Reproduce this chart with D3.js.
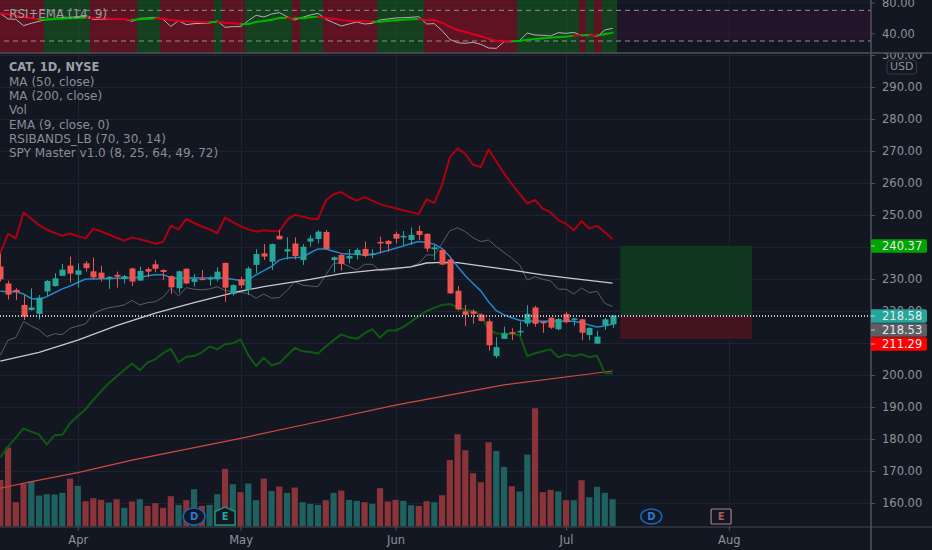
<!DOCTYPE html>
<html><head><meta charset="utf-8">
<style>html,body{margin:0;padding:0;background:#131722;overflow:hidden}svg{display:block}text{font-family:"DejaVu Sans",sans-serif}</style>
<script src="https://cdn.jsdelivr.net/npm/d3@7/dist/d3.min.js"></script>
</head><body><svg id="c" width="932" height="550"></svg>
<script>
const open_=[233.9,228.6,226.6,221.9,220.3,219.1,226.1,227.8,231.0,234.2,231.3,234.9,232.4,232.0,230.5,231.3,230.1,233.3,229.5,233.1,234.6,232.8,230.9,227.1,233.2,229.1,230.1,230.1,229.9,235.0,225.3,229.9,226.6,234.4,238.0,235.4,243.5,238.6,241.1,235.9,241.7,242.5,244.7,235.9,237.5,236.4,237.5,239.4,237.6,241.6,241.9,244.1,243.0,242.2,245.0,244.1,239.3,239.1,236.1,226.3,219.9,219.9,218.9,216.8,205.9,211.3,213.4,213.4,216.1,221.1,216.6,217.9,214.3,219.1,217.4,217.4,212.5,209.8,215.5,215.8];
const close_=[229.9,225.1,225.9,218.2,221.1,224.2,229.4,230.2,232.9,231.7,232.7,233.4,230.5,230.1,230.7,230.7,230.9,229.2,232.5,232.3,233.2,232.2,227.4,232.4,228.6,230.1,229.9,230.3,232.3,227.3,228.1,228.0,233.3,237.8,237.0,240.9,242.4,239.3,237.2,240.1,242.7,244.8,239.4,236.8,234.7,237.2,239.1,237.2,238.0,241.1,240.9,242.6,243.5,243.8,243.8,239.5,239.9,234.5,225.5,220.5,218.8,219.1,216.9,209.3,208.7,213.0,212.9,213.8,219.1,216.0,216.2,214.8,217.5,216.5,217.7,213.2,214.7,212.0,217.4,218.58];
const high_=[238.0,229.5,227.1,225.0,227.1,225.0,229.7,231.8,234.7,237.0,234.9,235.6,236.7,234.1,230.9,232.3,231.3,233.5,233.9,233.6,235.9,233.0,231.1,232.6,233.3,231.5,232.8,230.9,233.6,235.2,228.4,230.7,233.9,239.3,240.9,241.1,245.3,243.0,243.0,240.9,243.7,245.3,245.3,237.0,238.0,239.3,239.6,241.7,239.3,243.2,242.2,244.8,245.0,246.1,246.6,244.3,240.9,239.3,236.5,227.8,221.9,220.5,219.3,217.7,211.8,215.1,214.6,216.7,221.8,221.6,216.7,218.1,217.8,219.7,217.9,217.6,214.9,213.8,217.8,218.8];
const low_=[229.2,223.6,223.4,217.2,220.1,217.4,224.7,227.6,230.9,228.9,227.3,232.3,229.9,229.2,226.9,227.3,228.6,227.8,229.4,230.5,232.1,229.7,225.3,225.7,228.4,227.6,229.7,227.9,229.2,222.9,224.8,227.1,225.0,231.8,235.9,232.8,242.4,236.1,236.1,234.4,240.1,241.1,239.3,232.0,232.6,234.9,236.1,236.8,236.5,238.0,238.5,241.1,240.6,240.6,242.2,238.5,235.9,234.3,225.4,220.1,215.3,216.0,216.7,207.6,205.3,211.3,210.9,212.2,215.1,215.1,213.2,214.4,213.9,216.1,215.4,210.9,210.9,209.7,214.1,214.7];
const volume=[2.80,4.74,1.46,2.56,2.70,1.86,1.94,1.92,2.02,2.88,2.44,1.52,1.70,1.60,1.44,1.64,1.12,1.50,1.64,1.24,1.40,1.12,1.82,1.30,1.58,2.24,1.24,1.30,1.94,3.46,2.54,2.06,2.58,1.58,2.88,2.14,2.40,2.02,2.34,1.46,1.36,1.30,1.58,2.02,2.16,1.60,1.54,1.46,1.36,2.30,1.50,1.60,1.54,1.28,1.24,1.52,1.46,1.88,4.00,5.54,4.58,3.20,2.66,5.06,4.54,3.58,2.42,2.10,4.32,7.10,2.06,2.20,2.10,1.58,1.58,2.78,1.76,2.38,2.02,1.64];
const bandUpper=[238.1,244.1,242.7,250.8,248.8,246.8,245.4,244.4,243.5,244.2,243.4,242.7,245.7,244.9,243.9,242.9,242.0,243.0,242.4,241.8,241.0,241.6,246.6,245.5,248.8,247.5,246.4,245.5,244.3,249.2,247.8,246.5,245.5,244.8,245.2,245.0,244.9,248.4,250.1,249.5,248.9,248.7,254.5,256.5,257.2,255.6,254.5,255.6,254.5,253.4,252.7,252.1,251.5,250.9,250.3,254.9,253.8,259.4,268.0,270.8,269.1,265.7,265.0,270.5,266.7,263.0,259.7,256.6,253.6,254.7,252.0,250.8,248.4,247.3,245.2,248.1,245.8,246.6,244.6,242.5];
const bandLower=[174.3,177.6,180.4,183.3,182.3,181.4,178.3,181.2,181.3,184.9,187.2,189.3,192.2,194.9,197.4,199.5,201.6,203.6,201.5,203.9,204.9,206.8,208.2,204.0,205.7,205.9,207.1,208.9,208.0,209.6,209.9,211.1,206.2,202.8,205.4,203.0,203.7,206.1,208.5,207.4,207.2,206.7,208.9,210.9,212.7,211.8,211.3,213.0,214.3,211.7,213.9,213.9,215.0,216.7,218.4,220.0,221.0,221.9,222.2,221.1,220.3,220.0,218.8,214.1,213.0,213.0,212.8,212.5,205.9,206.8,207.4,208.0,205.5,206.4,205.9,206.5,205.6,206.0,200.6,200.5];
const spyMaster=[206.2,210.9,211.7,216.7,215.3,214.1,212.0,212.9,212.6,214.6,215.3,216.0,219.1,220.3,221.0,221.4,221.9,223.3,221.9,222.6,222.9,224.3,227.1,224.7,227.3,226.8,226.6,226.9,227.6,226.4,226.0,225.8,225.5,224.0,225.3,224.0,224.2,226.4,229.2,228.1,227.8,227.6,231.3,234.9,235.1,233.9,232.8,234.6,234.6,232.6,232.8,233.0,233.5,233.9,234.9,237.5,237.5,241.1,245.1,246.0,244.8,242.9,241.7,242.2,240.1,238.3,236.5,234.4,229.7,230.7,229.9,229.4,226.8,226.8,225.3,227.2,225.7,226.2,222.4,221.4];
const ema9=[226.2,226.0,226.1,225.3,223.9,223.6,224.5,225.7,226.9,227.8,228.9,230.0,230.0,230.1,230.1,230.2,230.2,230.5,230.5,231.0,231.3,231.3,230.5,230.1,230.4,230.3,230.3,230.3,230.5,230.2,229.9,229.5,229.7,231.3,232.6,233.9,235.9,236.6,236.7,236.8,238.2,239.4,239.4,238.7,238.0,237.8,237.7,237.5,237.6,238.3,238.9,239.6,240.3,241.1,241.7,241.4,240.9,239.5,237.0,233.9,231.0,228.6,226.3,222.9,220.1,218.8,217.9,217.1,216.8,216.9,216.8,216.9,216.7,216.9,216.8,216.3,215.6,215.0,215.3,215.9];
const ma50Bars=[0,5,10,15,20,25,30,34,40,44,48,53,55,57,59,62,66,70,74,79];
const ma50=[204.3,207.1,210.9,215.4,219.3,222.6,225.7,227.6,229.9,231.7,232.7,233.8,235.0,235.2,235.1,234.1,232.8,231.3,230.1,228.7];
const ma200Bars=[0,4,10,17,31,41,51,65,79];
const ma200=[164.6,166.7,169.5,173.4,180.2,185.4,190.6,196.9,201.25];
const rsi=[66.1,58.7,58.3,50.0,53.1,55.7,58.3,58.7,60.9,60.9,61.7,61.7,58.3,58.3,58.3,58.3,58.3,55.7,59.6,60.0,60.9,58.3,49.1,56.5,51.3,52.6,53.0,53.5,56.1,47.8,48.7,48.7,56.5,63.5,61.3,65.2,67.0,61.7,57.4,60.9,63.9,66.1,58.3,53.9,49.6,52.2,54.8,52.2,53.0,57.4,58.7,60.0,60.4,60.9,61.7,52.2,52.6,43.5,32.2,27.8,27.0,28.3,25.7,20.9,20.4,29.1,29.1,30.4,40.4,37.8,37.4,36.5,40.9,40.0,41.3,36.9,38.3,35.7,44.3,46.5];
const rsiEma=[66.1,64.8,63.0,60.9,59.6,58.3,57.8,58.7,59.1,59.6,60.0,60.4,60.0,59.6,59.1,58.7,58.3,57.4,58.3,58.7,59.6,59.1,57.4,56.5,55.7,55.2,54.8,54.4,54.8,53.9,53.0,51.7,52.2,54.8,56.1,57.8,60.0,60.0,59.6,59.6,60.9,61.7,60.0,59.1,57.4,56.5,56.1,55.7,55.2,55.2,56.1,57.0,57.8,58.3,58.7,57.4,57.0,53.9,48.7,44.3,41.7,38.7,36.1,33.1,30.4,29.6,29.6,30.0,31.7,32.6,33.5,34.4,35.2,35.7,37.0,37.4,37.4,37.0,38.7,40.9];
const rsiBullish=[0,0,0,0,0,0,1,1,1,1,1,1,0,0,0,0,0,0,1,1,1,0,0,0,0,0,0,0,1,0,0,0,1,1,1,1,1,1,0,1,1,1,0,0,0,0,0,0,0,1,1,1,1,1,1,0,0,0,0,0,0,0,0,0,0,0,0,1,1,1,1,1,1,1,1,0,1,0,1,1];
const priceTicks=[300,290,280,270,260,250,240,230,220,210,200,190,180,170,160];
const rsiTicks=[80,40];
const rsiLevels=[70,30];
const monthBars=[10,31,51,73,94];
const monthLabels=["Apr","May","Jun","Jul","Aug"];
const legendLabels=["CAT, 1D, NYSE","MA (50, close)","MA (200, close)","Vol","EMA (9, close, 0)","RSIBANDS_LB (70, 30, 14)","SPY Master v1.0 (8, 25, 64, 49, 72)"];
const tradeEntry=218.58, tradeTarget=240.37, tradeStop=211.29, lastOther=218.53;
const tradeFromBar=80, tradeToBar=97;
const priceTags=[[240.37,"#00a300"],[218.58,"#26a69a"],[218.53,"#5d5e63"],[211.29,"#ff0000"]];
const eventMarks=[[25,"D","div"],[29,"E","earnPast"],[84,"D","div"],[93,"E","earnNext"]];

const W=932,H=550,axisX=871,baseY=526.5,paneY=53;
const svg=d3.select("#c");
const defs=svg.append("defs");
defs.append("clipPath").attr("id","cp").append("rect").attr("x",0).attr("y",paneY).attr("width",axisX).attr("height",baseY-paneY);
defs.append("clipPath").attr("id","cr").append("rect").attr("x",0).attr("y",0).attr("width",axisX).attr("height",paneY);
defs.append("clipPath").attr("id","ca").append("rect").attr("x",axisX).attr("y",paneY).attr("width",W-axisX).attr("height",H-paneY);

const x=d3.scaleLinear().domain([0,94]).range([0.3,728.8]);
const y=d3.scaleLinear().domain([160,290]).range([503,87]);
const yR=d3.scaleLinear().domain([30,70]).range([41,10.33]);
const yV=d3.scaleLinear().domain([0,7.1]).range([baseY,408.3]);
const gridC="#1f2330",upC="#26a69a",dnC="#ef5350";
const isUp=i=>close_[i]>=open_[i];

// RSI pane
const r=svg.append("g").attr("clip-path","url(#cr)");
const idx=d3.range(close_.length);
r.append("rect").attr("x",0).attr("width",axisX).attr("y",yR(70)).attr("height",yR(30)-yR(70)).attr("fill","rgba(144,0,100,0.12)");
r.selectAll("rect.s").data(idx).join("rect").attr("class","s")
 .attr("x",i=>Math.round(x(i)-2.9)).attr("width",i=>Math.round(x(i+1)-2.9)-Math.round(x(i)-2.9))
 .attr("y",0).attr("height",paneY).attr("fill",i=>rsiBullish[i]?"rgba(18,75,30,0.8)":"rgba(118,18,32,0.72)");
r.selectAll("line.v").data(monthBars).join("line").attr("x1",d=>Math.round(x(d))+.5).attr("x2",d=>Math.round(x(d))+.5).attr("y1",0).attr("y2",paneY).attr("stroke","#ffffff").attr("stroke-opacity",.04);
r.selectAll("line.h").data(rsiTicks).join("line").attr("x1",0).attr("x2",axisX).attr("y1",d=>yR(d)).attr("y2",d=>yR(d)).attr("stroke","#ffffff").attr("stroke-opacity",.04);
r.selectAll("line.l").data(rsiLevels).join("line").attr("x1",4).attr("x2",axisX).attr("y1",d=>yR(d)).attr("y2",d=>yR(d)).attr("stroke","#8f9098").attr("stroke-dasharray","5 4");
const lr=d3.line().x((d,i)=>x(i)).y(d=>yR(d));
r.append("path").attr("d",lr(rsi)).attr("fill","none").attr("stroke","#b4b0b0").attr("stroke-width",1);
r.selectAll("line.e").data(idx.slice(1)).join("line").attr("x1",i=>x(i-1)).attr("x2",i=>x(i)).attr("y1",i=>yR(rsiEma[i-1])).attr("y2",i=>yR(rsiEma[i]))
 .attr("stroke",i=>rsiBullish[i]?"#00b400":"#d8001e").attr("stroke-width",2).attr("stroke-linecap","round");
svg.append("text").attr("x",9.3).attr("y",13.5).attr("dy",".36em").attr("font-size",11.8).attr("fill","#a09a9e").text("RSI+EMA (14, 9)");

// Price pane
const p=svg.append("g").attr("clip-path","url(#cp)");
p.selectAll("line.h").data(priceTicks).join("line").attr("x1",0).attr("x2",axisX).attr("y1",d=>Math.round(y(d))+.5).attr("y2",d=>Math.round(y(d))+.5).attr("stroke",gridC);
p.selectAll("line.v").data(monthBars).join("line").attr("x1",d=>Math.round(x(d))+.5).attr("x2",d=>Math.round(x(d))+.5).attr("y1",paneY).attr("y2",baseY).attr("stroke",gridC);
p.selectAll("rect.vol").data(idx).join("rect").attr("class","vol")
 .attr("x",i=>x(i)-3.1).attr("width",6.2).attr("y",i=>yV(volume[i])).attr("height",i=>baseY-yV(volume[i]))
 .attr("fill",i=>isUp(i)?"#1f6160":"#8a343a");
p.append("rect").attr("x",x(tradeFromBar)).attr("width",x(tradeToBar)-x(tradeFromBar)).attr("y",y(tradeTarget)).attr("height",y(tradeEntry)-y(tradeTarget)).attr("fill","#10371f");
p.append("rect").attr("x",x(tradeFromBar)).attr("width",x(tradeToBar)-x(tradeFromBar)).attr("y",y(tradeEntry)).attr("height",y(tradeStop)-y(tradeEntry)).attr("fill","#45151f");
const l1=d3.line().x((d,i)=>x(i)).y(d=>y(d));
const ls=bars=>d3.line().x((d,i)=>x(bars[i])).y(d=>y(d));
const path=(d,c,w)=>p.append("path").attr("d",d).attr("fill","none").attr("stroke",c).attr("stroke-width",w).attr("stroke-linejoin","round");
path(ls(ma200Bars)(ma200),"#cf4840",1.2);
path(l1(spyMaster),"#5b5d66",1);
path(l1(bandLower),"#0d5a10",2);
path(l1(bandUpper),"#b0000f",2);
path(ls(ma50Bars)(ma50),"#c8cad0",1.3);
path(l1(ema9),"#1f88cc",1.5);
p.selectAll("line.w").data(idx).join("line").attr("class","w")
 .attr("x1",i=>Math.round(x(i))+.5).attr("x2",i=>Math.round(x(i))+.5).attr("y1",i=>y(high_[i])).attr("y2",i=>y(low_[i]))
 .attr("stroke",i=>isUp(i)?upC:dnC);
p.selectAll("rect.b").data(idx).join("rect").attr("class","b")
 .attr("x",i=>Math.round(x(i))-2.5).attr("width",6)
 .attr("y",i=>y(Math.max(open_[i],close_[i])))
 .attr("height",i=>Math.max(1.5,Math.abs(y(open_[i])-y(close_[i]))))
 .attr("fill",i=>isUp(i)?upC:dnC);
p.append("line").attr("x1",0).attr("x2",axisX).attr("y1",Math.round(y(tradeEntry))).attr("y2",Math.round(y(tradeEntry))).attr("stroke","#bfc2c9").attr("stroke-width",2).attr("stroke-dasharray","1 2").attr("shape-rendering","crispEdges");

// event marks
const ev=p.selectAll("g.ev").data(eventMarks).join("g").attr("class","ev").attr("transform",d=>`translate(${x(d[0])},516.5)`);
ev.each(function(d){
  const g=d3.select(this);
  if(d[2]==="div"){
    const fut=d[0]>=close_.length;
    g.append("ellipse").attr("rx",fut?10.5:11).attr("ry",fut?7.5:8.5).attr("fill","#131722").attr("stroke","#1b64b8").attr("stroke-width",1.5);
    g.append("text").attr("text-anchor","middle").attr("dy",".36em").attr("font-size",10).attr("font-weight","bold").attr("fill","#2e78d0").text(d[1]);
  } else if(d[2]==="earnPast"){
    g.append("path").attr("d","M-10,-5 L0,-9.5 L10,-5 L10,8.5 L-10,8.5 Z").attr("fill","#131722").attr("stroke","#1f8f78").attr("stroke-width",1.5);
    g.append("text").attr("text-anchor","middle").attr("dy",".36em").attr("font-size",10).attr("font-weight","bold").attr("fill","#26a69a").text(d[1]);
  } else {
    g.append("rect").attr("x",-10).attr("y",-7.5).attr("width",20).attr("height",15).attr("rx",1).attr("fill","#131722").attr("stroke","#a98488").attr("stroke-width",1.2);
    g.append("text").attr("text-anchor","middle").attr("dy",".36em").attr("font-size",10).attr("font-weight","bold").attr("fill","#b0595c").text(d[1]);
  }
});

// legend
svg.append("g").selectAll("text").data(legendLabels).join("text").attr("x",9).attr("y",(d,i)=>67+i*14.33).attr("dy",".36em")
 .attr("font-size",(d,i)=>i?12:11.4).attr("font-weight",(d,i)=>i?null:"bold").attr("fill",(d,i)=>i?"#8a8d96":"#9da0a8").text(d=>d);

// axes
svg.append("rect").attr("x",axisX).attr("y",0).attr("width",W-axisX).attr("height",H).attr("fill","#131722");
const styleAxis=g=>{g.select(".domain").remove();g.selectAll("line").attr("stroke","#50535e");g.selectAll("text").attr("fill","#8f929b").attr("font-size",11.5).attr("font-family",'"DejaVu Sans",sans-serif');};
svg.append("g").attr("clip-path","url(#ca)").append("g").attr("transform",`translate(${axisX},0)`)
 .call(d3.axisRight(y).tickValues(priceTicks).tickFormat(d3.format(".2f")).tickSize(4).tickPadding(7)).call(styleAxis);
svg.append("g").attr("transform",`translate(${axisX},0)`)
 .call(d3.axisRight(yR).tickValues(rsiTicks).tickFormat(d3.format(".2f")).tickSize(4).tickPadding(7)).call(styleAxis);
svg.append("line").attr("x1",0).attr("x2",W).attr("y1",paneY).attr("y2",paneY).attr("stroke","#4f525c").attr("stroke-width",1.5);
svg.append("line").attr("x1",0).attr("x2",W).attr("y1",baseY+.5).attr("y2",baseY+.5).attr("stroke","#363a45").attr("stroke-width",1.5);
svg.append("line").attr("x1",axisX).attr("x2",axisX).attr("y1",0).attr("y2",H).attr("stroke","#50535e").attr("stroke-width",1.5);
const tx=d3.scaleOrdinal().domain(monthBars).range(monthLabels);
svg.append("g").attr("transform",`translate(0,${baseY})`)
 .call(d3.axisBottom(x).tickValues(monthBars).tickFormat(d=>tx(d)).tickSize(4).tickPadding(5)).call(styleAxis);
// USD box
svg.append("rect").attr("x",887).attr("y",60).attr("width",29.5).attr("height",14).attr("rx",3).attr("fill","#131722").attr("stroke","#363a45");
svg.append("text").attr("x",901.7).attr("y",66.5).attr("dy",".36em").attr("text-anchor","middle").attr("font-size",11).attr("fill","#8f929b").text("USD");
// price tags
const tagY={240.37:246,218.58:316,218.53:330,211.29:344};
const tg=svg.selectAll("g.tag").data(priceTags).join("g").attr("class","tag").attr("transform",d=>`translate(${axisX},${tagY[d[0]]})`);
tg.append("path").attr("d","M0,-6.8 H54 a2,2 0 0 1 2,2 V4.8 a2,2 0 0 1 -2,2 H0 Z").attr("fill",d=>d[1]);
tg.append("line").attr("x1",0).attr("x2",4).attr("stroke","#e8ecef").attr("stroke-opacity",.7);
tg.append("text").attr("x",11).attr("dy",".36em").attr("font-size",11.5).attr("fill","#e6e9ec").text(d=>d3.format(".2f")(d[0]));
</script></body></html>
